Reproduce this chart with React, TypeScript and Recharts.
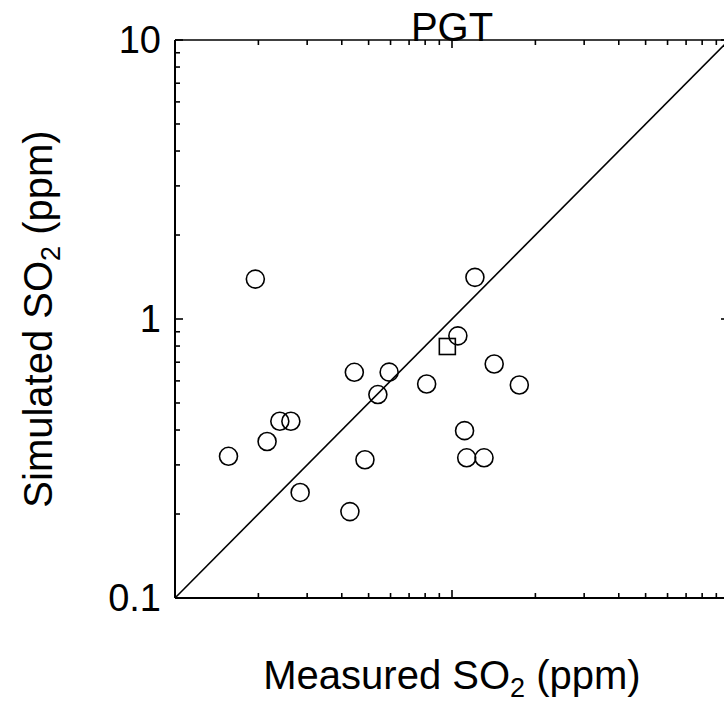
import { ScatterChart, Scatter, XAxis, YAxis, ReferenceLine } from 'recharts';

const measured = [0.195, 1.21, 1.05, 1.42, 1.75, 0.81, 0.593, 0.444, 0.54, 0.239, 0.262, 0.215, 0.156, 0.485, 0.283, 0.428, 1.11, 1.13, 1.305];
const simulated = [1.39, 1.41, 0.87, 0.69, 0.58, 0.585, 0.645, 0.644, 0.536, 0.43, 0.43, 0.364, 0.322, 0.313, 0.239, 0.204, 0.398, 0.318, 0.318];

const squareMeasured = [0.962];
const squareSimulated = [0.797];

const logTicks = [0.1, 0.2, 0.3, 0.4, 0.5, 0.6, 0.7, 0.8, 0.9, 1, 2, 3, 4, 5, 6, 7, 8, 9, 10];
const labeledTicks = ['0.1', '1', '10'];

const circles = measured.map((x, i) => ({ x, y: simulated[i] }));
const squares = squareMeasured.map((x, i) => ({ x, y: squareSimulated[i] }));

const FONT = '"Liberation Sans", Arial, Helvetica, sans-serif';

const isMajor = (v: number) => Math.abs(Math.log10(v) - Math.round(Math.log10(v))) < 1e-6;

// ticks point into the plot, so each side gets its own little renderer
const makeTick = (side: 'left' | 'right' | 'top' | 'bottom') => (props: any) => {
  const { x, y, payload } = props;
  const v = payload.value;
  const len = isMajor(v) ? 8 : 5;
  let x2 = x, y2 = y;
  if (side === 'left') x2 = x + len;
  if (side === 'right') x2 = x - len;
  if (side === 'top') y2 = y + len;
  if (side === 'bottom') y2 = y - len;
  const label = side === 'left' ? labeledTicks.find(t => Math.abs(Number(t) - v) < 1e-9) : undefined;
  return (
    <g>
      <line x1={x} y1={y} x2={x2} y2={y2} stroke="#000" strokeWidth={1.6} />
      {label && (
        <text x={x - 14} y={y + 13} textAnchor="end" fontSize={38} fontFamily={FONT} fill="#000">
          {label}
        </text>
      )}
    </g>
  );
};

const Circle = (props: any) => (
  <circle cx={props.cx} cy={props.cy} r={9} fill="none" stroke="#000" strokeWidth={1.6} />
);

const Square = (props: any) => (
  <rect x={props.cx - 8} y={props.cy - 8} width={16} height={16} fill="none" stroke="#000" strokeWidth={1.6} />
);

const Nothing = () => <g />;

const XTitle = (props: any) => {
  const { x, width } = props.viewBox;
  return (
    <text x={x + width / 2} y={689} textAnchor="middle" fontSize={40} fontFamily={FONT} fill="#000">
      Measured SO<tspan fontSize={27} dy={8}>2</tspan><tspan dy={-8}> (ppm)</tspan>
    </text>
  );
};

const YTitle = (props: any) => {
  const { y, height } = props.viewBox;
  const cx = 52;
  const cy = y + height / 2;
  return (
    <text x={cx} y={cy} transform={`rotate(-90 ${cx} ${cy})`} textAnchor="middle" fontSize={40} fontFamily={FONT} fill="#000">
      Simulated SO<tspan fontSize={27} dy={8}>2</tspan><tspan dy={-8}> (ppm)</tspan>
    </text>
  );
};

export default function App() {
  return (
    <div style={{ position: 'absolute', left: 0, top: 0, width: 724, height: 704, overflow: 'hidden', background: '#fff' }}>
      <ScatterChart width={740} height={704} margin={{ top: 39, right: 10, bottom: 0, left: 0 }}>
        <XAxis
          xAxisId={0}
          dataKey="x"
          type="number"
          scale="log"
          domain={[0.1, 10]}
          allowDataOverflow
          ticks={logTicks}
          interval={0}
          height={106}
          tickSize={0}
          tickMargin={0}
          tickLine={false}
          tick={makeTick('bottom')}
          axisLine={{ stroke: '#000', strokeWidth: 2 }}
          label={{ content: XTitle }}
        />
        <XAxis
          xAxisId="top"
          orientation="top"
          dataKey="x"
          type="number"
          scale="log"
          domain={[0.1, 10]}
          allowDataOverflow
          ticks={logTicks}
          interval={0}
          height={1}
          tickSize={0}
          tickMargin={0}
          tickLine={false}
          tick={makeTick('top')}
          axisLine={{ stroke: '#000', strokeWidth: 1.6 }}
          label={{ value: 'PGT', position: 'top', offset: -2, fontSize: 40, fontFamily: FONT, fill: '#000' }}
        />
        <YAxis
          yAxisId={0}
          dataKey="y"
          type="number"
          scale="log"
          domain={[0.1, 10]}
          allowDataOverflow
          ticks={logTicks}
          interval={0}
          width={175}
          tickSize={0}
          tickMargin={0}
          tickLine={false}
          tick={makeTick('left')}
          axisLine={{ stroke: '#000', strokeWidth: 2 }}
          label={{ content: YTitle }}
        />
        <YAxis
          yAxisId="right"
          orientation="right"
          dataKey="y"
          type="number"
          scale="log"
          domain={[0.1, 10]}
          allowDataOverflow
          ticks={logTicks}
          interval={0}
          width={1}
          tickSize={0}
          tickMargin={0}
          tickLine={false}
          tick={makeTick('right')}
          axisLine={{ stroke: '#000', strokeWidth: 1.6 }}
        />
        <ReferenceLine
          segment={[{ x: 0.1, y: 0.1 }, { x: 10, y: 10 }]}
          stroke="#000"
          strokeWidth={1.6}
        />
        <Scatter data={circles} shape={Circle} isAnimationActive={false} />
        <Scatter data={squares} shape={Square} isAnimationActive={false} />
        {/* invisible copy so the top/right frame axes get drawn */}
        <Scatter data={circles} xAxisId="top" yAxisId="right" shape={Nothing} isAnimationActive={false} />
      </ScatterChart>
    </div>
  );
}
